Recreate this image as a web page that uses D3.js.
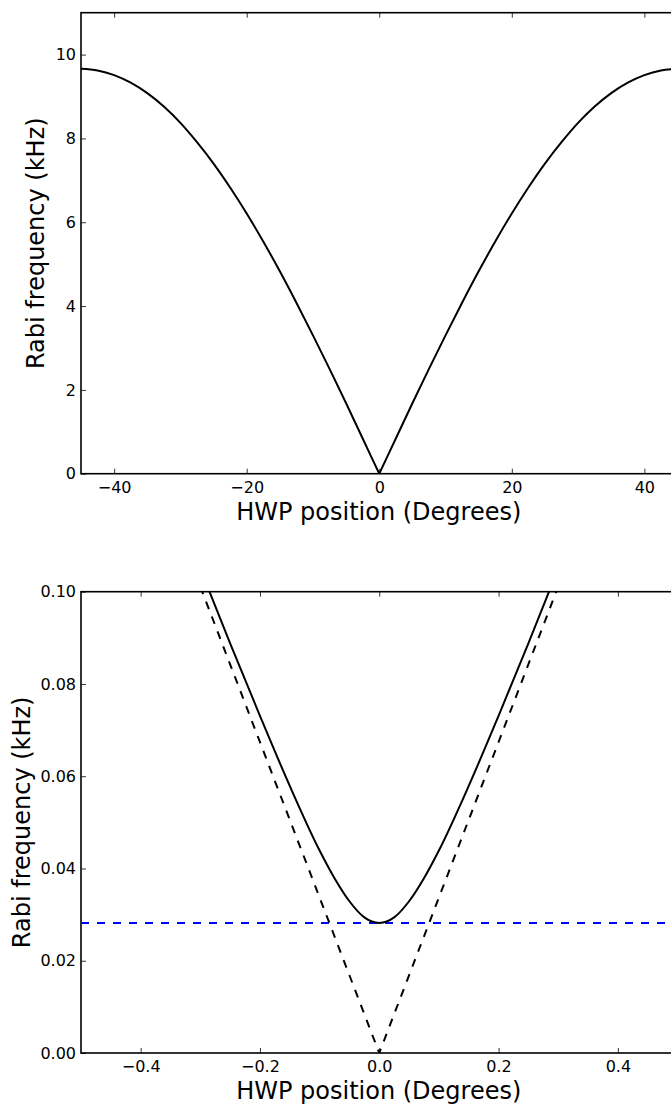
<!DOCTYPE html>
<html>
<head>
<meta charset="utf-8">
<script src="https://cdn.jsdelivr.net/npm/d3@7"></script>
<style>
  body { margin: 0; background: #fff; }
  text { font-family: "DejaVu Sans", sans-serif; fill: #000; }
</style>
</head>
<body>
<div id="chart"></div>
<script>
const width = 671;
const height = 1108;

// top panel: full HWP sweep
const topAngles = [-45, -42.5, -40, -37.5, -35, -32.5, -30, -27.5, -25, -22.5, -20, -17.5, -15, -12.5, -10, -7.5, -5, -2.5, 0,
  2.5, 5, 7.5, 10, 12.5, 15, 17.5, 20, 22.5, 25, 27.5, 30, 32.5, 35, 37.5, 40, 42.5, 45];
const topRabi = [9.66, 9.62, 9.51, 9.33, 9.08, 8.76, 8.37, 7.91, 7.40, 6.83, 6.21, 5.54, 4.83, 4.08, 3.30, 2.50, 1.68, 0.84, 0,
  0.84, 1.68, 2.50, 3.30, 4.08, 4.83, 5.54, 6.21, 6.83, 7.40, 7.91, 8.37, 8.76, 9.08, 9.33, 9.51, 9.62, 9.66];
const topXTicks = [-40, -20, 0, 20, 40];
const topYTicks = [0, 2, 4, 6, 8, 10];

// bottom panel: zoom around zero
const zoomAngles = [-0.3, -0.25, -0.2, -0.15, -0.1, -0.075, -0.05, -0.025, 0, 0.025, 0.05, 0.075, 0.1, 0.15, 0.2, 0.25, 0.3];
const zoomRabi = [0.1050, 0.0888, 0.0731, 0.0579, 0.0439, 0.0379, 0.0329, 0.0294, 0.0282, 0.0294, 0.0329, 0.0379, 0.0439, 0.0579, 0.0731, 0.0888, 0.1050];
const dashAngles = [-0.3, 0, 0.3];
const dashRabi = [0.1011, 0, 0.1011];
const floorAngles = [-0.5, 0.5];
const floorRabi = [0.0282, 0.0282];
const zoomXTicks = [-0.4, -0.2, 0, 0.2, 0.4];
const zoomYTicks = [0, 0.02, 0.04, 0.06, 0.08, 0.1];

const svg = d3.select("#chart")
  .append("svg")
  .attr("width", width)
  .attr("height", height);

const left = 81, right = 677.5;

function panel(id, xDomain, yDomain, top, bottom, xTicks, yTicks, xFmt, yFmt, labelX) {
  const x = d3.scaleLinear().domain(xDomain).range([left, right]);
  const y = d3.scaleLinear().domain(yDomain).range([bottom, top]);

  svg.append("clipPath").attr("id", id)
    .append("rect")
    .attr("x", left).attr("y", top)
    .attr("width", right - left).attr("height", bottom - top);

  const g = svg.append("g");

  const axes = [
    [d3.axisBottom(x).tickValues(xTicks).tickFormat(xFmt), `translate(0,${bottom})`],
    [d3.axisTop(x).tickValues(xTicks).tickFormat(""), `translate(0,${top})`],
    [d3.axisLeft(y).tickValues(yTicks).tickFormat(yFmt), `translate(${left},0)`],
    [d3.axisRight(y).tickValues(yTicks).tickFormat(""), `translate(${right},0)`]
  ];
  axes.forEach(([ax, tr], i) => {
    ax.tickSizeInner(-5).tickSizeOuter(0).tickPadding(i < 2 ? 8 : 5);
    const a = g.append("g").attr("transform", tr).call(ax);
    a.select(".domain").remove();
    a.selectAll(".tick line").attr("stroke", "#000").attr("stroke-width", 0.8);
    a.selectAll("text").style("font-size", "16px").attr("fill", "#000");
  });

  g.append("rect")
    .attr("x", left).attr("y", top)
    .attr("width", right - left).attr("height", bottom - top)
    .attr("fill", "none").attr("stroke", "#000").attr("stroke-width", 1.6);

  g.append("text")
    .attr("x", (left + right) / 2 - 0.5)
    .attr("y", bottom + 46)
    .attr("text-anchor", "middle")
    .style("font-size", "24px")
    .text("HWP position (Degrees)");

  g.append("text")
    .attr("transform", `translate(${labelX},${(top + bottom) / 2}) rotate(-90)`)
    .attr("text-anchor", "middle")
    .style("font-size", "24px")
    .text("Rabi frequency (kHz)");

  const plot = svg.append("g").attr("clip-path", `url(#${id})`);
  return { x, y, plot };
}

// ---- top panel
const p1 = panel("clipTop", [-45, 45], [0, 11], 12.7, 473.7, topXTicks, topYTicks, d3.format("d"), d3.format("d"), 44);

const topPts = topAngles.map((a, i) => ({ a, v: topRabi[i] }));
const line1 = d3.line().x(d => p1.x(d.a)).y(d => p1.y(d.v)).curve(d3.curveMonotoneX);
[topPts.filter(d => d.a <= 0), topPts.filter(d => d.a >= 0)].forEach(half => {
  p1.plot.append("path")
    .datum(half)
    .attr("fill", "none")
    .attr("stroke", "#000")
    .attr("stroke-width", 2)
    .attr("d", line1);
});

// ---- bottom panel
const p2 = panel("clipBot", [-0.5, 0.5], [0, 0.1], 591.7, 1053, zoomXTicks, zoomYTicks, d3.format(".1f"), d3.format(".2f"), 29.5);

const line2 = d3.line().x(d => p2.x(d.a)).y(d => p2.y(d.v));

p2.plot.append("path")
  .datum(floorAngles.map((a, i) => ({ a, v: floorRabi[i] })))
  .attr("fill", "none")
  .attr("stroke", "#0000ff")
  .attr("stroke-width", 2)
  .attr("stroke-dasharray", "8,8")
  .attr("d", line2);

p2.plot.append("path")
  .datum(dashAngles.map((a, i) => ({ a, v: dashRabi[i] })))
  .attr("fill", "none")
  .attr("stroke", "#000")
  .attr("stroke-width", 2)
  .attr("stroke-dasharray", "8,8")
  .attr("d", line2);

p2.plot.append("path")
  .datum(zoomAngles.map((a, i) => ({ a, v: zoomRabi[i] })))
  .attr("fill", "none")
  .attr("stroke", "#000")
  .attr("stroke-width", 2)
  .attr("d", line2.curve(d3.curveMonotoneX));
</script>
</body>
</html>
